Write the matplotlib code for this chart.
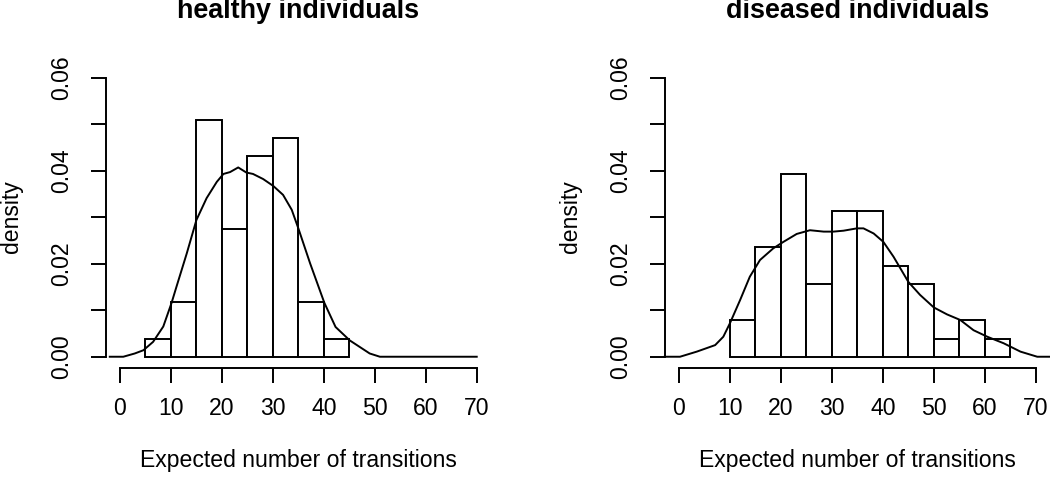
import matplotlib
matplotlib.use("Agg")
import matplotlib.pyplot as plt

plt.rcParams['font.family'] = ['Liberation Sans', 'DejaVu Sans']

# ---- data ----
titles = ["healthy individuals", "diseased individuals"]
xlabel = "Expected number of transitions"
ylabel = "density"

healthy_bin_left = [5, 10, 15, 20, 25, 30, 35, 40]
healthy_density = [0.0039, 0.0118, 0.0510, 0.0275, 0.0431, 0.0471, 0.0118, 0.0039]

diseased_bin_left = [10, 15, 20, 25, 30, 35, 40, 45, 50, 55, 60]
diseased_density = [0.0078, 0.0235, 0.0392, 0.0157, 0.0314, 0.0314, 0.0196,
                    0.0157, 0.0039, 0.0078, 0.0039]
bin_width = 5

healthy_kde_x = [-2.0, 0.65, 2.9, 4.6, 6.5, 8.5, 10.1, 11.1, 13.1, 15.0, 17.0,
                 19.0, 20.3, 21.6, 23.2, 24.8, 26.1, 28.1, 30.1, 32.0, 33.7,
                 35.0, 37.3, 40.1, 42.3, 45.1, 49.0, 51.0, 70.0]
healthy_kde_y = [0.0, 0.0, 0.0007, 0.0014, 0.0032, 0.0065, 0.0115, 0.0151,
                 0.0222, 0.0294, 0.0341, 0.0376, 0.0393, 0.0397, 0.0407,
                 0.0396, 0.0393, 0.0382, 0.0367, 0.0348, 0.0316, 0.0276,
                 0.0201, 0.0116, 0.0064, 0.0035, 0.0007, 0.0, 0.0]

diseased_kde_x = [-2.8, 0.2, 3.5, 7.1, 8.7, 10.0, 12.0, 13.9, 15.9, 18.5, 20.5,
                  23.1, 25.7, 28.4, 30.3, 32.3, 34.9, 36.2, 38.2, 40.1, 42.1,
                  45.0, 47.3, 50.0, 52.6, 55.2, 57.8, 60.5, 63.7, 67.0, 70.3,
                  73.0]
diseased_kde_y = [0.0, 0.0, 0.0011, 0.0025, 0.0043, 0.0072, 0.0122, 0.0172,
                  0.0208, 0.0233, 0.0247, 0.0264, 0.0272, 0.0269, 0.0269,
                  0.0271, 0.0276, 0.0276, 0.0265, 0.0247, 0.0215, 0.0161,
                  0.0133, 0.0106, 0.0091, 0.0079, 0.0057, 0.0043, 0.0029,
                  0.0011, 0.0, 0.0]

xticks = [0, 10, 20, 30, 40, 50, 60, 70]
yticks = [0.00, 0.01, 0.02, 0.03, 0.04, 0.05, 0.06]
ytick_labels = ["0.00", "", "0.02", "", "0.04", "", "0.06"]

# ---- figure ----
W, H = 1050, 479
fig = plt.figure(figsize=(W / 100, H / 100), dpi=100)

panels = [
    (105.7, healthy_bin_left, healthy_density, healthy_kde_x, healthy_kde_y),
    (664.7, diseased_bin_left, diseased_density, diseased_kde_x, diseased_kde_y),
]
ax_w, top_px, bot_px = 385.3, 66.5, 367.9
lw = 1.4
fs = 16.6

for i, (left_px, bl, dens, kx, ky) in enumerate(panels):
    ax = fig.add_axes([left_px / W, 1 - bot_px / H, ax_w / W, (bot_px - top_px) / H])
    ax.set_xlim(-2.8, 72.8)
    ax.set_ylim(-0.0024, 0.0624)
    ax.bar(bl, dens, width=bin_width, align='edge', facecolor='white',
           edgecolor='black', linewidth=lw, zorder=2)
    ax.plot(kx, ky, color='black', linewidth=lw, zorder=3, clip_on=False,
            solid_joinstyle='round')
    for s in ['top', 'right']:
        ax.spines[s].set_visible(False)
    ax.spines['left'].set_bounds(0, 0.06)
    ax.spines['bottom'].set_bounds(0, 70)
    ax.spines['left'].set_linewidth(lw)
    ax.spines['bottom'].set_linewidth(lw)
    ax.set_xticks(xticks)
    ax.set_xticklabels([str(t) for t in xticks])
    ax.set_yticks(yticks)
    ax.set_yticklabels(ytick_labels, rotation=90, va='center', ha='center')
    ax.tick_params(axis='both', length=11, width=lw, labelsize=fs,
                   direction='out')
    ax.tick_params(axis='x', pad=10)
    ax.tick_params(axis='y', pad=21)
    cx = (left_px + ax_w / 2) / W
    fig.text(cx, 1 - 18 / H, titles[i], ha='center', va='baseline',
             fontsize=19.4, fontweight='bold')
    fig.text(cx, 1 - 461 / H, xlabel, ha='center', va='center', fontsize=fs)
    fig.text((left_px - 94) / W, 1 - 217 / H, ylabel, ha='center', va='center',
             rotation=90, fontsize=fs)

fig.savefig("out.png", dpi=100)
